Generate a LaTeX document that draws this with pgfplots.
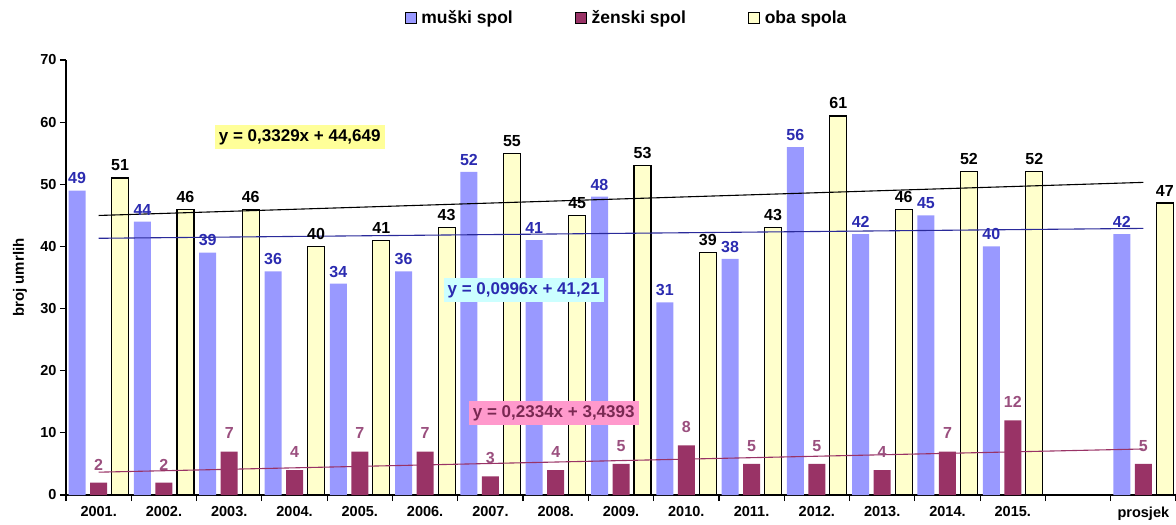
\documentclass[border=0pt]{standalone}
\usepackage{fontspec}
\setmainfont{Liberation Sans}
\usepackage{pgfplots}
\pgfplotsset{compat=1.18}
\definecolor{cMale}{HTML}{9999FF}
\definecolor{cFemale}{HTML}{993366}
\definecolor{cBoth}{HTML}{FFFFCC}
\definecolor{cMaleTxt}{HTML}{2B2BB0}
\definecolor{cFemaleTxt}{HTML}{9A4F7E}
\definecolor{cBlueLine}{HTML}{2A2A9A}
\definecolor{cBoxY}{HTML}{FFFF99}
\definecolor{cBoxC}{HTML}{CCFFFF}
\definecolor{cBoxP}{HTML}{FF99CC}

\begin{document}
\begin{tikzpicture}
\begin{axis}[
  scale only axis,
  width=1110pt, height=435pt,
  xmin=0.5, xmax=17.5, ymin=0, ymax=70,
  axis x line*=bottom, axis y line*=left,
  axis line style={black, line width=1.2pt},
  xtick={1,...,17},
  xticklabels={2001.,2002.,2003.,2004.,2005.,2006.,2007.,2008.,2009.,2010.,2011.,2012.,2013.,2014.,2015.,,prosjek},
  major x tick style={draw=none},
  minor xtick={0.5,1.5,...,17.5},
  minor x tick style={black, line width=1.2pt},
  minor tick length=6pt,
  ytick={0,10,...,70},
  major tick length=6pt,
  y tick style={black, line width=1.2pt},
  tick align=outside,
  tick label style={font=\fontsize{14.5}{16}\selectfont\bfseries},
  /pgf/number format/assume math mode=true,
  xticklabel style={yshift=-2pt},
  ylabel={broj umrlih},
  ylabel style={font=\fontsize{15}{17}\selectfont\bfseries, at={(axis description cs:-0.0414,0.5)}, anchor=center},
  nodes near coords,
  every node near coord/.append style={font=\fontsize{16}{18}\selectfont\bfseries, yshift=3pt},
  legend columns=3,
  legend style={at={(0.505,1.097)}, anchor=center, draw=none, fill=none,
    font=\fontsize{17.5}{19}\selectfont\bfseries,
    /tikz/every odd column/.append style={column sep=3pt},
    /tikz/every even column/.append style={column sep=60pt}},
  legend image code/.code={\draw[#1, line width=0.8pt] (0pt,-5.5pt) rectangle (11pt,5.5pt);},
  clip=false,
]
\addplot[ybar, bar width=17pt, bar shift=-21.5pt, fill=cMale, draw=none,
  every node near coord/.append style={text=cMaleTxt, xshift=-21.5pt}]
  coordinates {(1,49)(2,44)(3,39)(4,36)(5,34)(6,36)(7,52)(8,41)(9,48)(10,31)
               (11,38)(12,56)(13,42)(14,45)(15,40)(17,42)};
\addlegendentry{muški spol}
\addplot[ybar, bar width=17pt, bar shift=0pt, fill=cFemale, draw=none,
  every node near coord/.append style={text=cFemaleTxt, yshift=6pt}]
  coordinates {(1,2)(2,2)(3,7)(4,4)(5,7)(6,7)(7,3)(8,4)(9,5)(10,8)
               (11,5)(12,5)(13,4)(14,7)(15,12)(17,5)};
\addlegendentry{ženski spol}
\addplot[ybar, bar width=17pt, bar shift=21.5pt, fill=cBoth, draw=black, line width=1.2pt,
  every node near coord/.append style={text=black, xshift=21.5pt}]
  coordinates {(1,51)(2,46)(3,46)(4,40)(5,41)(6,43)(7,55)(8,45)(9,53)(10,39)
               (11,43)(12,61)(13,46)(14,52)(15,52)(17,47)};
\addlegendentry{oba spola}
% linear trends
\addplot[black, line width=1.1pt, no marks, nodes near coords=] coordinates {(1,44.982)(17,50.308)};
\addplot[cBlueLine, line width=1.1pt, no marks, nodes near coords=] coordinates {(1,41.310)(17,42.903)};
\addplot[cFemale, line width=1.1pt, no marks, nodes near coords=] coordinates {(1,3.673)(17,7.407)};
\node[fill=cBoxY, inner sep=4pt, font=\fontsize{17}{19}\selectfont\bfseries] at (axis cs:4.08,57.6) {y = 0,3329x + 44,649};
\node[fill=cBoxC, text=cMaleTxt, inner sep=4pt, font=\fontsize{17}{19}\selectfont\bfseries] at (axis cs:7.51,33.0) {y = 0,0996x + 41,21};
\node[fill=cBoxP, text=cFemale!80!black, inner sep=4pt, font=\fontsize{17}{19}\selectfont\bfseries] at (axis cs:7.97,13.2) {y = 0,2334x + 3,4393};
\end{axis}
\pgfresetboundingbox
\path (-66pt,-30pt) rectangle (1110pt,495pt);
\end{tikzpicture}
\end{document}
